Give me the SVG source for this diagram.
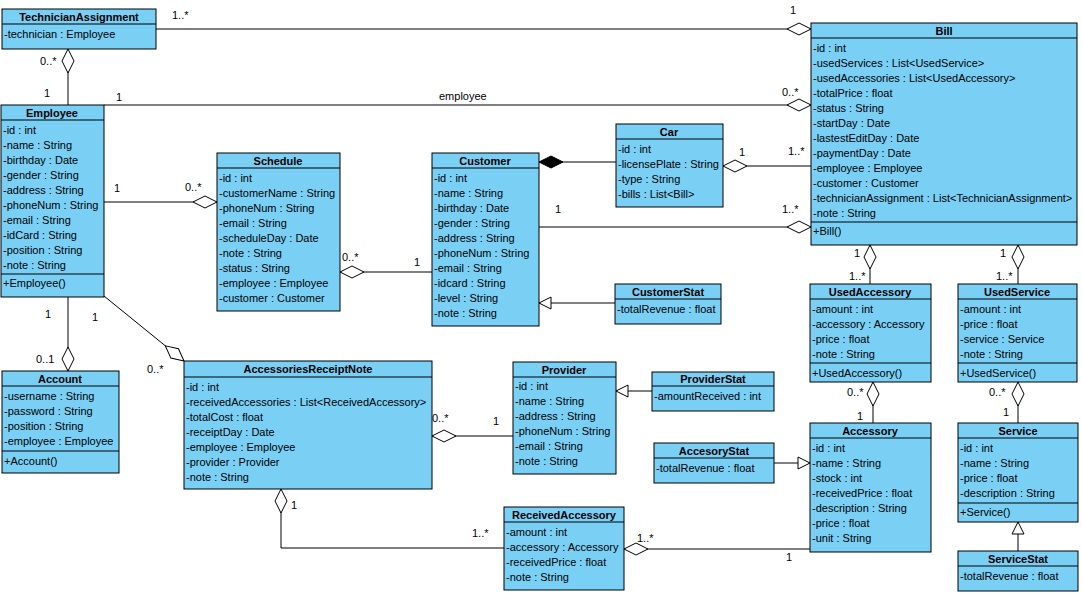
<svg xmlns="http://www.w3.org/2000/svg" width="1082" height="594" viewBox="0 0 1082 594">
<style>
.b{fill:#7ACFF5;stroke:#000;stroke-width:1}
.s{stroke:#000;stroke-width:1}
text{font-family:"Liberation Sans",Arial,sans-serif;font-size:11px;fill:#000}
.h{font-weight:bold;text-anchor:middle}
.c{fill:none;stroke:#000;stroke-width:1}
</style>
<defs>
<marker id="ad" markerWidth="26" markerHeight="14" refX="1" refY="7" orient="auto" markerUnits="userSpaceOnUse"><path d="M1,7 L13,1 L25,7 L13,13 Z" fill="#fff" stroke="#000"/></marker>
<marker id="cd" markerWidth="26" markerHeight="14" refX="1" refY="7" orient="auto" markerUnits="userSpaceOnUse"><path d="M1,7 L13,1 L25,7 L13,13 Z" fill="#000" stroke="#000"/></marker>
<marker id="gt" markerWidth="14" markerHeight="14" refX="1" refY="7" orient="auto" markerUnits="userSpaceOnUse"><path d="M1,7 L13,1 L13,13 Z" fill="#fff" stroke="#000"/></marker>
</defs>
<rect width="1082" height="594" fill="#fff"/>

<g id="connectors">
<path class="c" d="M811,29 L156,29" marker-start="url(#ad)"/>
<path class="c" d="M68,49 L68,105" marker-start="url(#ad)"/>
<path class="c" d="M811,105 L104,105" marker-start="url(#ad)"/>
<path class="c" d="M217,202 L104,202" marker-start="url(#ad)"/>
<path class="c" d="M340,272 L432,272" marker-start="url(#ad)"/>
<path class="c" d="M539,162 L616,162" marker-start="url(#cd)"/>
<path class="c" d="M723,166 L811,166" marker-start="url(#ad)"/>
<path class="c" d="M811,227 L539,227" marker-start="url(#ad)"/>
<path class="c" d="M539,303 L615,303" marker-start="url(#gt)"/>
<path class="c" d="M870,245 L870,284" marker-start="url(#ad)"/>
<path class="c" d="M1018,245 L1018,284" marker-start="url(#ad)"/>
<path class="c" d="M873,382 L873,423" marker-start="url(#ad)"/>
<path class="c" d="M1018,382 L1018,423" marker-start="url(#ad)"/>
<path class="c" d="M810,463 L774,463" marker-start="url(#gt)"/>
<path class="c" d="M616,391 L652,391" marker-start="url(#gt)"/>
<path class="c" d="M432,436 L513,436" marker-start="url(#ad)"/>
<path class="c" d="M184,361 L104,296" marker-start="url(#ad)"/>
<path class="c" d="M68,371 L68,297" marker-start="url(#ad)"/>
<path class="c" d="M281,489 L281,548 L504,548" marker-start="url(#ad)"/>
<path class="c" d="M624,549 L810,549" marker-start="url(#ad)"/>
<path class="c" d="M1018,522 L1018,551" marker-start="url(#gt)"/>
<text x="172" y="19">1..*</text>
<text x="790" y="14">1</text>
<text x="40" y="65">0..*</text>
<text x="44" y="97">1</text>
<text x="116" y="101">1</text>
<text x="439" y="100">employee</text>
<text x="782" y="96">0..*</text>
<text x="114" y="192">1</text>
<text x="185" y="191">0..*</text>
<text x="342" y="261">0..*</text>
<text x="414" y="266">1</text>
<text x="739" y="156">1</text>
<text x="788" y="155">1..*</text>
<text x="555" y="213">1</text>
<text x="782" y="213">1..*</text>
<text x="854" y="257">1</text>
<text x="849" y="280">1..*</text>
<text x="1000" y="257">1</text>
<text x="996" y="280">1..*</text>
<text x="847" y="396">0..*</text>
<text x="857" y="420">1</text>
<text x="989" y="396">0..*</text>
<text x="1003" y="416">1</text>
<text x="432" y="422">0..*</text>
<text x="493" y="425">1</text>
<text x="92" y="321">1</text>
<text x="147" y="373">0..*</text>
<text x="45" y="318">1</text>
<text x="36" y="363">0..1</text>
<text x="291" y="509">1</text>
<text x="472" y="537">1..*</text>
<text x="637" y="542">1..*</text>
<text x="786" y="561">1</text>
</g>

<g id="TechnicianAssignment">
<rect class="b" x="2" y="9" width="154" height="40"/>
<line class="s" x1="2" y1="24" x2="156" y2="24"/>
<text class="h" x="79" y="21">TechnicianAssignment</text>
<text x="4" y="38">-technician : Employee</text>
</g>

<g id="Employee">
<rect class="b" x="1" y="105" width="103" height="192"/>
<line class="s" x1="1" y1="120" x2="104" y2="120"/>
<line class="s" x1="1" y1="274" x2="104" y2="274"/>
<text class="h" x="52" y="117">Employee</text>
<text x="3" y="134">-id : int</text>
<text x="3" y="149">-name : String</text>
<text x="3" y="164">-birthday : Date</text>
<text x="3" y="179">-gender : String</text>
<text x="3" y="194">-address : String</text>
<text x="3" y="209">-phoneNum : String</text>
<text x="3" y="224">-email : String</text>
<text x="3" y="239">-idCard : String</text>
<text x="3" y="254">-position : String</text>
<text x="3" y="269">-note : String</text>
<text x="3" y="287">+Employee()</text>
</g>

<g id="Schedule">
<rect class="b" x="217" y="153" width="123" height="158"/>
<line class="s" x1="217" y1="168" x2="340" y2="168"/>
<text class="h" x="278" y="165">Schedule</text>
<text x="219" y="182">-id : int</text>
<text x="219" y="197">-customerName : String</text>
<text x="219" y="212">-phoneNum : String</text>
<text x="219" y="227">-email : String</text>
<text x="219" y="242">-scheduleDay : Date</text>
<text x="219" y="257">-note : String</text>
<text x="219" y="272">-status : String</text>
<text x="219" y="287">-employee : Employee</text>
<text x="219" y="302">-customer : Customer</text>
</g>

<g id="Customer">
<rect class="b" x="432" y="153" width="107" height="173"/>
<line class="s" x1="432" y1="168" x2="539" y2="168"/>
<text class="h" x="485" y="165">Customer</text>
<text x="434" y="182">-id : int</text>
<text x="434" y="197">-name : String</text>
<text x="434" y="212">-birthday : Date</text>
<text x="434" y="227">-gender : String</text>
<text x="434" y="242">-address : String</text>
<text x="434" y="257">-phoneNum : String</text>
<text x="434" y="272">-email : String</text>
<text x="434" y="287">-idcard : String</text>
<text x="434" y="302">-level : String</text>
<text x="434" y="317">-note : String</text>
</g>

<g id="Car">
<rect class="b" x="616" y="124" width="107" height="83"/>
<line class="s" x1="616" y1="139" x2="723" y2="139"/>
<text class="h" x="669" y="136">Car</text>
<text x="618" y="153">-id : int</text>
<text x="618" y="168">-licensePlate : String</text>
<text x="618" y="183">-type : String</text>
<text x="618" y="198">-bills : List&lt;Bill&gt;</text>
</g>

<g id="CustomerStat">
<rect class="b" x="615" y="284" width="106" height="40"/>
<line class="s" x1="615" y1="299" x2="721" y2="299"/>
<text class="h" x="668" y="296">CustomerStat</text>
<text x="617" y="313">-totalRevenue : float</text>
</g>

<g id="Bill">
<rect class="b" x="811" y="23" width="266" height="222"/>
<line class="s" x1="811" y1="38" x2="1077" y2="38"/>
<line class="s" x1="811" y1="222" x2="1077" y2="222"/>
<text class="h" x="944" y="35">Bill</text>
<text x="813" y="52">-id : int</text>
<text x="813" y="67">-usedServices : List&lt;UsedService&gt;</text>
<text x="813" y="82">-usedAccessories : List&lt;UsedAccessory&gt;</text>
<text x="813" y="97">-totalPrice : float</text>
<text x="813" y="112">-status : String</text>
<text x="813" y="127">-startDay : Date</text>
<text x="813" y="142">-lastestEditDay : Date</text>
<text x="813" y="157">-paymentDay : Date</text>
<text x="813" y="172">-employee : Employee</text>
<text x="813" y="187">-customer : Customer</text>
<text x="813" y="202">-technicianAssignment : List&lt;TechnicianAssignment&gt;</text>
<text x="813" y="217">-note : String</text>
<text x="813" y="235">+Bill()</text>
</g>

<g id="UsedAccessory">
<rect class="b" x="810" y="284" width="121" height="98"/>
<line class="s" x1="810" y1="299" x2="931" y2="299"/>
<line class="s" x1="810" y1="363" x2="931" y2="363"/>
<text class="h" x="870" y="296">UsedAccessory</text>
<text x="812" y="313">-amount : int</text>
<text x="812" y="328">-accessory : Accessory</text>
<text x="812" y="343">-price : float</text>
<text x="812" y="358">-note : String</text>
<text x="812" y="377">+UsedAccessory()</text>
</g>

<g id="UsedService">
<rect class="b" x="958" y="284" width="119" height="98"/>
<line class="s" x1="958" y1="299" x2="1077" y2="299"/>
<line class="s" x1="958" y1="363" x2="1077" y2="363"/>
<text class="h" x="1017" y="296">UsedService</text>
<text x="960" y="313">-amount : int</text>
<text x="960" y="328">-price : float</text>
<text x="960" y="343">-service : Service</text>
<text x="960" y="358">-note : String</text>
<text x="960" y="377">+UsedService()</text>
</g>

<g id="Accessory">
<rect class="b" x="810" y="423" width="121" height="129"/>
<line class="s" x1="810" y1="438" x2="931" y2="438"/>
<text class="h" x="870" y="435">Accessory</text>
<text x="812" y="452">-id : int</text>
<text x="812" y="467">-name : String</text>
<text x="812" y="482">-stock : int</text>
<text x="812" y="497">-receivedPrice : float</text>
<text x="812" y="512">-description : String</text>
<text x="812" y="527">-price : float</text>
<text x="812" y="542">-unit : String</text>
</g>

<g id="Service">
<rect class="b" x="958" y="423" width="120" height="99"/>
<line class="s" x1="958" y1="438" x2="1078" y2="438"/>
<line class="s" x1="958" y1="503" x2="1078" y2="503"/>
<text class="h" x="1018" y="435">Service</text>
<text x="960" y="452">-id : int</text>
<text x="960" y="467">-name : String</text>
<text x="960" y="482">-price : float</text>
<text x="960" y="497">-description : String</text>
<text x="960" y="516">+Service()</text>
</g>

<g id="ServiceStat">
<rect class="b" x="958" y="551" width="120" height="40"/>
<line class="s" x1="958" y1="566" x2="1078" y2="566"/>
<text class="h" x="1018" y="563">ServiceStat</text>
<text x="960" y="580">-totalRevenue : float</text>
</g>

<g id="Account">
<rect class="b" x="2" y="371" width="117" height="102"/>
<line class="s" x1="2" y1="386" x2="119" y2="386"/>
<line class="s" x1="2" y1="451" x2="119" y2="451"/>
<text class="h" x="60" y="383">Account</text>
<text x="4" y="400">-username : String</text>
<text x="4" y="415">-password : String</text>
<text x="4" y="430">-position : String</text>
<text x="4" y="445">-employee : Employee</text>
<text x="4" y="465">+Account()</text>
</g>

<g id="AccessoriesReceiptNote">
<rect class="b" x="184" y="361" width="248" height="128"/>
<line class="s" x1="184" y1="377" x2="432" y2="377"/>
<text class="h" x="308" y="373">AccessoriesReceiptNote</text>
<text x="186" y="391">-id : int</text>
<text x="186" y="406">-receivedAccessories : List&lt;ReceivedAccessory&gt;</text>
<text x="186" y="421">-totalCost : float</text>
<text x="186" y="436">-receiptDay : Date</text>
<text x="186" y="451">-employee : Employee</text>
<text x="186" y="466">-provider : Provider</text>
<text x="186" y="481">-note : String</text>
</g>

<g id="Provider">
<rect class="b" x="513" y="362" width="103" height="112"/>
<line class="s" x1="513" y1="377" x2="616" y2="377"/>
<text class="h" x="564" y="374">Provider</text>
<text x="515" y="390">-id : int</text>
<text x="515" y="405">-name : String</text>
<text x="515" y="420">-address : String</text>
<text x="515" y="435">-phoneNum : String</text>
<text x="515" y="450">-email : String</text>
<text x="515" y="465">-note : String</text>
</g>

<g id="ProviderStat">
<rect class="b" x="652" y="372" width="122" height="39"/>
<line class="s" x1="652" y1="386" x2="774" y2="386"/>
<text class="h" x="713" y="383">ProviderStat</text>
<text x="654" y="400">-amountReceived : int</text>
</g>

<g id="AccesoryStat">
<rect class="b" x="654" y="443" width="120" height="40"/>
<line class="s" x1="654" y1="458" x2="774" y2="458"/>
<text class="h" x="714" y="455">AccesoryStat</text>
<text x="656" y="472">-totalRevenue : float</text>
</g>

<g id="ReceivedAccessory">
<rect class="b" x="504" y="507" width="120" height="83"/>
<line class="s" x1="504" y1="522" x2="624" y2="522"/>
<text class="h" x="564" y="519">ReceivedAccessory</text>
<text x="506" y="536">-amount : int</text>
<text x="506" y="551">-accessory : Accessory</text>
<text x="506" y="566">-receivedPrice : float</text>
<text x="506" y="581">-note : String</text>
</g>
</svg>
